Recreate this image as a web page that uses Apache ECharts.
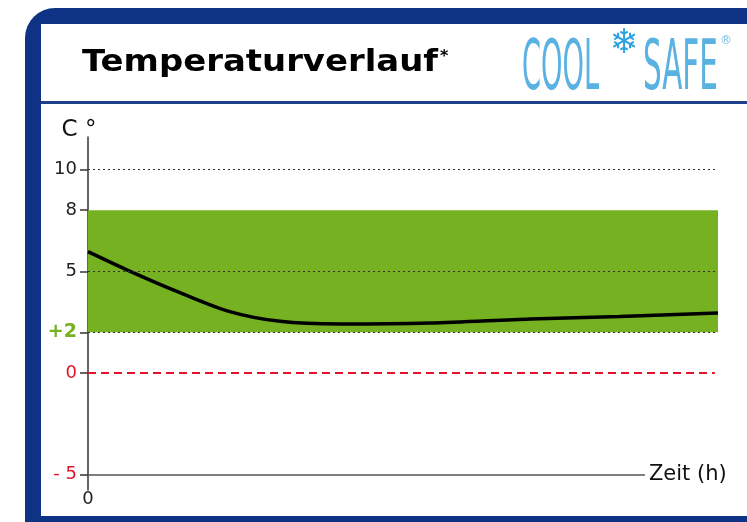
<!DOCTYPE html>
<html>
<head>
<meta charset="utf-8">
<script src="https://cdn.jsdelivr.net/npm/echarts@6/dist/echarts.min.js"></script>
<style>
  html, body { margin: 0; padding: 0; background: #fff; }
  #chart { width: 747px; height: 522px; }
</style>
</head>
<body>
<div id="chart"></div>
<script>
// Zeitachse: relative Skala 0–100 (nur "0" wird beschriftet)
const zeit = [0, 6.7, 14.6, 22.5, 30.5, 40, 54.3, 70.2, 84.4, 100]
const temperatur = [5.97, 5.0, 3.95, 3.02, 2.54, 2.41, 2.46, 2.66, 2.78, 2.95]

const yTicks = [-5, 0, 2, 5, 8, 10]
const xTicks = [0]
const gridLinien = [10, 5, 2]   // gepunktete Hilfslinien
const nullLinie = 0             // rote gestrichelte Linie
const band = [2, 8]             // grüner Sollbereich
const xAchseY = -5              // Höhe der Zeitachse
const xAchseEnde = 88.4         // bis wohin die Zeitachse gezeichnet wird
const xMax = 100

const chart = echarts.init(document.getElementById('chart'), null, { renderer: 'canvas' })

// Farben
const blau = '#0f3384'
const gruen = '#75b121'
const rot = '#e3132b'
const text = '#222'
const logoBlau = '#5ab2e2'

const option = {
  animation: false,
  backgroundColor: '#fff',
  grid: { left: 88, right: 29, top: 137, bottom: 32 },
  xAxis: {
    type: 'value',
    min: 0,
    max: xMax,
    axisLine: { show: false },
    axisTick: { show: false },
    splitLine: { show: false },
    axisLabel: {
      customValues: xTicks,
      margin: 0,
      color: text,
      fontSize: 18,
      fontFamily: 'DejaVu Sans'
    }
  },
  yAxis: {
    type: 'value',
    min: -5.75,
    max: 11.6,
    name: 'C °',
    nameLocation: 'end',
    nameGap: -5,
    nameTextStyle: {
      color: '#111',
      fontSize: 23,
      fontFamily: 'DejaVu Sans',
      align: 'center',
      padding: [0, 18, 0, 0]
    },
    axisLine: { show: true, lineStyle: { color: '#333', width: 1.5 } },
    axisTick: { customValues: yTicks, length: 8, lineStyle: { color: '#333', width: 1.5 } },
    splitLine: { show: false },
    axisLabel: {
      customValues: yTicks,
      margin: 11,
      fontSize: 18,
      fontFamily: 'DejaVu Sans',
      color: text,
      formatter: function (v) {
        if (v === -5) return '{rot|- 5}'
        if (v === 0) return '{rot|0}'
        if (v === 2) return '{gruen|+2}'
        return String(v)
      },
      rich: {
        rot: { color: rot, fontSize: 18, fontFamily: 'DejaVu Sans' },
        gruen: { color: gruen, fontSize: 19, fontWeight: 'bold', fontFamily: 'DejaVu Sans' }
      }
    }
  },
  graphic: [
    // Rahmen
    { type: 'rect', z: -10, shape: { x: 25, y: 8, width: 780, height: 560, r: 30 }, style: { fill: blau } },
    { type: 'rect', z: -9, shape: { x: 41, y: 24, width: 740, height: 492 }, style: { fill: '#fff' } },
    { type: 'rect', z: -8, shape: { x: 41, y: 101, width: 720, height: 3 }, style: { fill: '#1f3f8c' } },
    // Titel
    { type: 'text', x: 82, y: 48, scaleX: 1.13, style: { text: 'Temperaturverlauf', font: 'bold 30px "DejaVu Sans"', fill: '#000' } },
    { type: 'text', x: 440, y: 49, style: { text: '*', font: 'bold 16px "DejaVu Sans"', fill: '#000' } },
    // Logo
    { type: 'text', x: 522, y: 36, scaleX: 0.39, style: { text: 'COOL', font: '70px "DejaVu Sans"', fill: logoBlau } },
    { type: 'text', x: 610, y: 27, style: { text: '❄', font: 'bold 34px "DejaVu Sans"', fill: '#29a2e2' } },
    { type: 'text', x: 643, y: 36, scaleX: 0.42, style: { text: 'SAFE', font: '70px "DejaVu Sans"', fill: logoBlau } },
    { type: 'text', x: 720, y: 35, style: { text: '®', font: '12px "DejaVu Sans"', fill: '#6bbbe6' } }
  ],
  series: [
    {
      // grüner Bereich
      type: 'line',
      data: [],
      z: 1,
      silent: true,
      markArea: {
        silent: true,
        itemStyle: { color: gruen },
        data: [[{ coord: [0, band[0]] }, { coord: [xMax, band[1]] }]]
      }
    },
    {
      // Hilfslinien + Nulllinie + Zeitachse
      type: 'line',
      data: [],
      z: 2,
      silent: true,
      markLine: {
        silent: true,
        symbol: 'none',
        animation: false,
        data: [
          ...gridLinien.map(v => [
            { coord: [0, v], lineStyle: { color: '#333', type: [2, 3], width: 1 }, label: { show: false } },
            { coord: [xMax, v] }
          ]),
          [
            { coord: [0, nullLinie], lineStyle: { color: rot, type: [8, 5], width: 2 }, label: { show: false } },
            { coord: [99.5, nullLinie] }
          ],
          [
            {
              coord: [0, xAchseY],
              lineStyle: { color: '#555', type: 'solid', width: 1.5 },
              label: {
                show: true,
                position: 'end',
                distance: 4,
                formatter: 'Zeit (h)',
                color: '#111',
                fontSize: 21,
                fontFamily: 'DejaVu Sans'
              }
            },
            { coord: [xAchseEnde, xAchseY] }
          ]
        ]
      }
    },
    {
      name: 'Temperatur',
      type: 'line',
      z: 3,
      data: zeit.map((x, i) => [x, temperatur[i]]),
      smooth: 0.3,
      showSymbol: false,
      lineStyle: { color: '#000', width: 3.5 }
    }
  ]
}

chart.setOption(option)
</script>
</body>
</html>
